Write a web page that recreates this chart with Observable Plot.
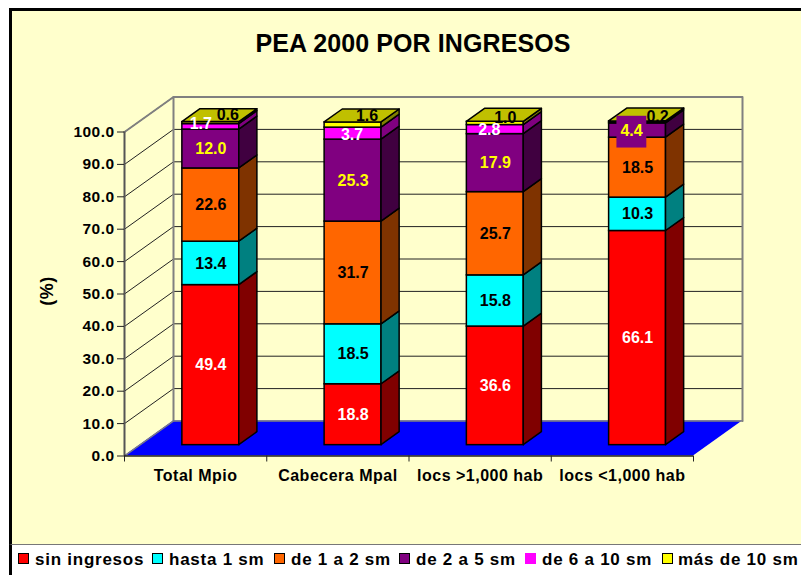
<!DOCTYPE html>
<html>
<head>
<meta charset="utf-8">
<script src="https://cdn.jsdelivr.net/npm/d3@7"></script>
<script src="https://cdn.jsdelivr.net/npm/@observablehq/plot@0.6"></script>
<style>
  html,body{margin:0;padding:0;background:#fff;width:801px;height:575px;overflow:hidden;font-family:"Liberation Sans",Arial,sans-serif;}
  #panel{position:absolute;left:9px;top:8px;width:792px;height:537px;background:#FFFFCC;border-left:3px solid #000;border-top:3px solid #000;box-sizing:border-box;border-bottom:1px solid #777;}
  #bar{position:absolute;left:9px;top:545px;width:3px;height:30px;background:#000;}
  #chart{position:absolute;left:0;top:0;}
  #title{position:absolute;left:13px;top:28px;width:800px;text-align:center;font-weight:bold;font-size:25px;line-height:30px;letter-spacing:.1px;color:#000;}
  #ylab{position:absolute;left:47px;top:291px;transform:translate(-50%,-50%) rotate(-90deg);font-weight:bold;font-size:18px;letter-spacing:.5px;}
  #legend{position:absolute;left:0;top:546px;width:801px;height:29px;}
  .k{position:absolute;top:7px;width:9px;height:9px;border:1.5px solid #000;}
  .t{position:absolute;top:4px;font-weight:bold;font-size:17px;line-height:20px;letter-spacing:.75px;white-space:nowrap;color:#000;}
  svg g[aria-label="x-axis tick label"] text{letter-spacing:.5px;}
  svg g[aria-label="y-axis tick label"] text{letter-spacing:.45px;}
</style>
</head>
<body>
<div id="panel"></div>
<div id="bar"></div>
<div id="chart"></div>
<div id="title">PEA 2000 POR INGRESOS</div>
<div id="ylab">(%)</div>
<div id="legend"></div>
<script>
const categories = ["Total Mpio", "Cabecera Mpal", "locs >1,000 hab", "locs <1,000 hab"];
const series = ["sin ingresos", "hasta 1 sm", "de 1 a 2 sm", "de 2 a 5 sm", "de 6 a 10 sm", "más de 10 sm"];
const sinIngresos = [49.4, 18.8, 36.6, 66.1];
const hasta1 = [13.4, 18.5, 15.8, 10.3];
const de1a2 = [22.6, 31.7, 25.7, 18.5];
const de2a5 = [12.0, 25.3, 17.9, 4.4];
const de6a10 = [1.7, 3.7, 2.8, 0.4];
const masDe10 = [0.6, 1.6, 1.0, 0.2];
const values = [sinIngresos, hasta1, de1a2, de2a5, de6a10, masDe10];
const shownLabels = [[1,1,1,1],[1,1,1,1],[1,1,1,1],[1,1,1,1],[1,1,1,0],[1,1,1,1]];

const frontColors = ["#FF0000", "#00FFFF", "#FF6600", "#800080", "#FF00FF", "#FFFF00"];
const sideColors = ["#800000", "#008080", "#7F3300", "#400040", "#800080", "#808000"];
const textColors = ["#fff", "#000", "#000", "#FFFF00", "#fff", "#000"];
const topColor = "#C0C000";
// small nudges of the crowded labels at the top of the stacks: [series, category, dx, dy]
const nudges = [[4,0,-10,-3],[5,0,17,-8],[4,1,-1,1],[5,1,14,-9],[4,2,-6,0],[5,2,10,-6],[3,3,-6,0],[5,3,20,-5]];

// oblique projection of the 3-D box, expressed in scale units
const kx = 49 / 142.25, ky = 35 / 3.24;
const depthFront = 0.31, depthBack = 0.68;
const gap = 0.3, barW = 0.4;
const px = (c, d) => c + d * kx;
const py = (v, d) => v + d * ky;

const fronts = [], sides = [], tops = [], labels = [];
categories.forEach((cat, c) => {
  let base = 0;
  const x1 = px(c + gap, depthFront), x2 = px(c + gap + barW, depthFront);
  const xb = px(c + gap + barW, depthBack);
  values.forEach((vals, s) => {
    const top = base + vals[c];
    fronts.push({x1, x2, y1: py(base, depthFront), y2: py(top, depthFront), fill: frontColors[s], order: c * 10 + s});
    const id = c + "-" + s;
    sides.push({id, x: x2, y1: py(base, depthFront), y2: py(top, depthFront), fill: sideColors[s]});
    sides.push({id, x: xb, y1: py(base, depthBack), y2: py(top, depthBack), fill: sideColors[s]});
    if (shownLabels[s][c]) {
      const n = nudges.find(m => m[0] === s && m[1] === c) || [0, 0, 0, 0];
      labels.push({x: (x1 + x2) / 2, y: py((base + top) / 2, depthFront), text: vals[c].toFixed(1), fill: textColors[s], dx: n[2], dy: n[3], s, c});
    }
    base = top;
  });
  tops.push({id: c, y: py(base, depthFront), x1, x2});
  tops.push({id: c, y: py(base, depthBack), x1: px(c + gap, depthBack), x2: xb});
});

const grid = d3.range(10, 101, 10).flatMap(v => [
  {v, x: 0, y: v},
  {v, x: px(0, 1), y: py(v, 1)},
  {v, x: px(4, 1), y: py(v, 1)}
]);
const wall = [
  {x: 0, y: 100}, {x: px(0, 1), y: py(100, 1)}, {x: px(4, 1), y: py(100, 1)},
  {x: px(4, 1), y: py(0, 1)}
];
const wallLeft = [{x: px(0, 1), y: py(100, 1)}, {x: px(0, 1), y: py(0, 1)}];
const floor = [
  {y: 0, x1: 0, x2: 4},
  {y: py(0, 1), x1: px(0, 1), x2: px(4, 1)}
];
const floorEdge = [{x: 0, y: 0}, {x: px(0, 1), y: py(0, 1)}, {x: px(4, 1), y: py(0, 1)}];

// the label of the small purple segment in the last stack sits on its own purple patch
const patchLabel = labels.find(l => l.s === 3 && l.c === 3);
const patch = [{x1: patchLabel.x - 0.145, x2: patchLabel.x + 0.065, y1: patchLabel.y - 5.4, y2: patchLabel.y + 4.4}];

const fontStyle = {fontFamily: '"Liberation Sans",Arial,sans-serif', fontWeight: "bold"};

const chart = Plot.plot({
  width: 801,
  height: 546,
  marginLeft: 124,
  marginRight: 108,
  marginTop: 131.5,
  marginBottom: 90.5,
  style: {background: "transparent", fontFamily: fontStyle.fontFamily, overflow: "visible"},
  x: {domain: [0, 4], axis: null},
  y: {domain: [0, 100], axis: null},
  marks: [
    Plot.line(grid, {x: "x", y: "y", z: "v", stroke: "#222", strokeWidth: 1}),
    Plot.line(wall, {x: "x", y: "y", stroke: "#808080", strokeWidth: 2}),
    Plot.line(wallLeft, {x: "x", y: "y", stroke: "#808080", strokeWidth: 2}),
    Plot.areaX(floor, {y: "y", x1: "x1", x2: "x2", fill: "#0000FF"}),
    Plot.line(floorEdge, {x: "x", y: "y", stroke: "#808080", strokeWidth: 1.5}),
    Plot.ruleX([0], {stroke: "#555", strokeWidth: 2}),
    Plot.ruleY([0], {stroke: "#222", strokeWidth: 1.5}),
    Plot.axisY({ticks: d3.range(0, 101, 10), tickFormat: d3.format(".1f"), tickSize: 7, tickPadding: 3, label: null, fontSize: 15.5, fontWeight: "bold", stroke: "#222", fill: "#000"}),
    Plot.axisX({ticks: [0, 1, 2, 3, 4], tickFormat: () => "", tickSize: 6, label: null, stroke: "#222"}),
    Plot.axisX({ticks: [0.5, 1.5, 2.5, 3.5], tickFormat: d => categories[d - 0.5], tickSize: 0, tickPadding: 14, label: null, fontSize: 16, fontWeight: "bold", fill: "#000"}),
    Plot.rect(fronts, {x1: "x1", x2: "x2", y1: "y1", y2: "y2", fill: "fill", stroke: "#000", strokeWidth: 1.5}),
    Plot.areaY(sides, {x: "x", y1: "y1", y2: "y2", z: "id", fill: "fill", stroke: "#000", strokeWidth: 1.5}),
    Plot.areaX(tops, {y: "y", x1: "x1", x2: "x2", z: "id", fill: topColor, stroke: "#000", strokeWidth: 1.5}),
    Plot.rect(patch, {x1: "x1", x2: "x2", y1: "y1", y2: "y2", fill: "#800080"}),
    ...labels.map(l => Plot.text([l], {x: "x", y: "y", text: "text", fill: l.fill, dx: l.dx, dy: l.dy, fontSize: 16, fontWeight: "bold"}))
  ]
});
document.getElementById("chart").appendChild(chart);

const lefts = [[18, 35], [152, 169], [274, 291], [399, 416], [525, 542], [662, 678]];
const legend = document.getElementById("legend");
series.forEach((name, i) => {
  const k = document.createElement("div");
  k.className = "k";
  k.style.left = lefts[i][0] + "px";
  k.style.background = frontColors[i];
  if (i === 4) k.style.borderColor = frontColors[i];
  legend.appendChild(k);
  const t = document.createElement("div");
  t.className = "t";
  t.style.left = lefts[i][1] + "px";
  t.textContent = name;
  legend.appendChild(t);
});
</script>
</body>
</html>
